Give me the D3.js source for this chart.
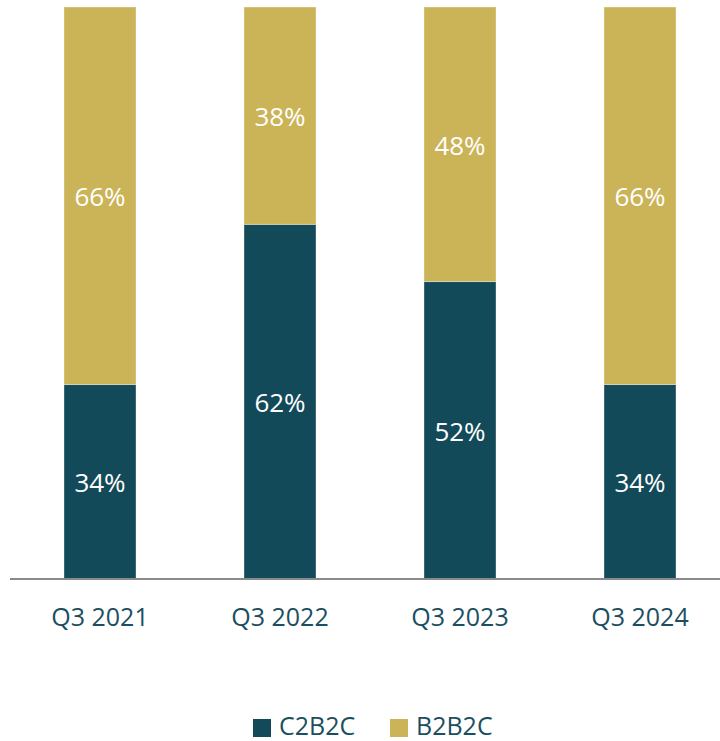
<!DOCTYPE html>
<html>
<head>
<meta charset="utf-8">
<script src="https://cdn.jsdelivr.net/npm/d3@7"></script>
<style>
  html, body { margin: 0; padding: 0; background: #fff; }
  svg { display: block; font-family: "Open Sans", "Noto Sans", sans-serif; }
</style>
</head>
<body>
<svg id="chart" width="720" height="741"></svg>
<script>
// Share of C2B2C vs B2B2C by quarter (percent)
const categories = ["Q3 2021", "Q3 2022", "Q3 2023", "Q3 2024"];
const c2b2c = [34, 62, 52, 34];
const b2b2c = [66, 38, 48, 66];
const seriesNames = ["C2B2C", "B2B2C"];
const seriesColors = ["#134a5a", "#cbb357"];

const svg = d3.select("#chart");
const W = 720;

const rows = categories.map((c, i) => ({ cat: c, C2B2C: c2b2c[i], B2B2C: b2b2c[i] }));
const stacked = d3.stack().keys(seriesNames)(rows);

const x = d3.scaleBand()
  .domain(categories)
  .range([10, 730])
  .paddingInner(0.6)
  .paddingOuter(0.3);

const y = d3.scaleLinear().domain([0, 100]).range([579, 7]);

const color = d3.scaleOrdinal().domain(seriesNames).range(seriesColors);

// stacked bars
const layers = svg.append("g").selectAll("g")
  .data(stacked)
  .join("g")
  .attr("fill", d => color(d.key));

layers.selectAll("rect")
  .data(d => d)
  .join("rect")
  .attr("x", d => x(d.data.cat))
  .attr("y", d => y(d[1]))
  .attr("width", x.bandwidth())
  .attr("height", d => y(d[0]) - y(d[1]))
  .attr("stroke", "rgba(255,255,255,0.35)")
  .attr("stroke-width", 1);

// value labels centred in each segment
layers.selectAll("text")
  .data(d => d)
  .join("text")
  .attr("x", d => x(d.data.cat) + x.bandwidth() / 2)
  .attr("y", d => (y(d[0]) + y(d[1])) / 2)
  .attr("dy", "0.4em")
  .attr("text-anchor", "middle")
  .attr("fill", "#ffffff")
  .attr("font-size", 26)
  .text(d => (d[1] - d[0]) + "%");

// category axis
const axis = svg.append("g")
  .attr("transform", `translate(0,${y(0)})`)
  .call(d3.axisBottom(x).tickSize(0).tickPadding(29));
axis.select(".domain").remove();
axis.append("line")
  .attr("x1", 10).attr("x2", W)
  .attr("y1", 0).attr("y2", 0)
  .attr("stroke", "#8a8a8a")
  .attr("stroke-width", 2);
axis.selectAll(".tick text")
  .attr("font-family", "\"Open Sans\", sans-serif")
  .attr("font-size", 25)
  .attr("fill", "#1b4f60");

// legend
const legendItems = [
  { name: seriesNames[0], x: 253 },
  { name: seriesNames[1], x: 390 }
];
const legend = svg.append("g").selectAll("g")
  .data(legendItems)
  .join("g")
  .attr("transform", d => `translate(${d.x},719)`);
legend.append("rect")
  .attr("width", 18).attr("height", 18)
  .attr("fill", d => color(d.name));
legend.append("text")
  .attr("x", 26)
  .attr("y", 16)
  .attr("font-size", 25)
  .attr("fill", "#1b4f60")
  .text(d => d.name);
</script>
</body>
</html>
